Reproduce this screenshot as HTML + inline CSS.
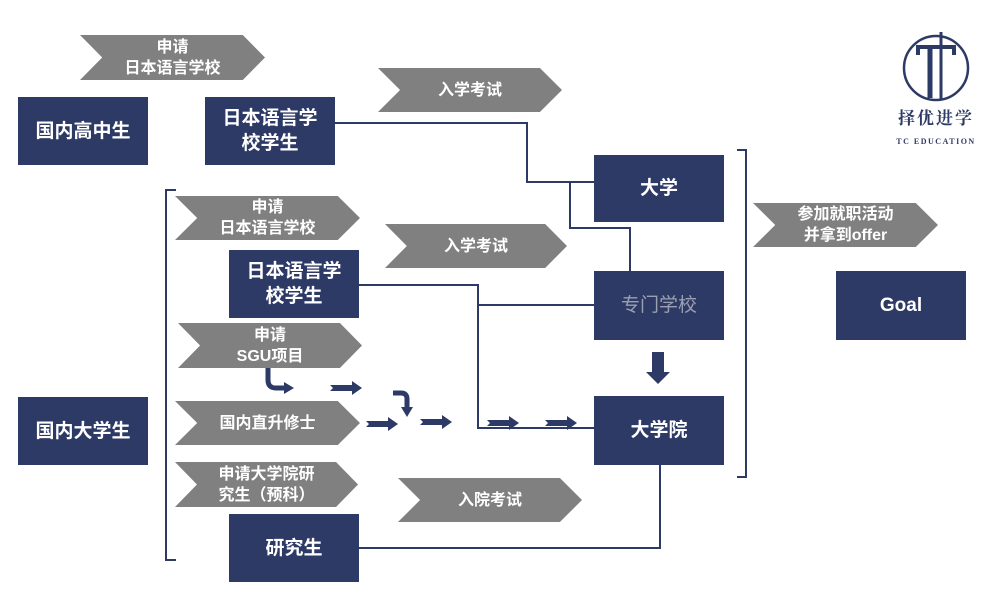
<!DOCTYPE html>
<html><head><meta charset="utf-8"><style>
body{margin:0;width:1000px;height:589px;background:#fff;overflow:hidden;position:relative;font-family:"Liberation Sans","Noto Sans CJK SC",sans-serif}
.b{position:absolute;background:#2e3a66;color:#fff;display:flex;align-items:center;justify-content:center;text-align:center;font-size:19px;line-height:25px;font-weight:bold}
.c{position:absolute;background:#808080;color:#fff;display:flex;align-items:center;justify-content:center;text-align:center;font-size:16px;line-height:21px;font-weight:bold;clip-path:polygon(0 0,88% 0,100% 50%,88% 100%,0 100%,12% 50%)}
svg{position:absolute;left:0;top:0}
</style></head><body>
<svg width="1000" height="589">
<defs><polygon id="a" points="0,-3 22,-3 22,-7 32,0 22,7 22,3 0,3 3,0" fill="#2e3a66"/></defs>
<g stroke="#2e3a66" stroke-width="2" fill="none">
<polyline points="335,123 527,123 527,182 594,182"/>
<polyline points="570,182 570,228 630,228 630,271"/>
<polyline points="359,285 478,285 478,428 594,428"/>
<line x1="478" y1="305" x2="594" y2="305"/>
<polyline points="359,548 660,548 660,465"/>
<polyline points="176,190 166,190 166,560 176,560"/>
<polyline points="737,150 746,150 746,477 737,477"/>
<path d="M268,368 v12 q0,8 8,8 h8" stroke-width="5"/>
<path d="M393,393 h8 q6,0 6,6 v8" stroke-width="5"/>
</g>
<g fill="#2e3a66">
<polygon points="284,382 294,388 284,394"/>
<polygon points="401,407 407,417 413,407"/>
<polygon points="652,352 664,352 664,372 670,372 658,384 646,372 652,372"/>
<use href="#a" x="330" y="388"/>
<use href="#a" x="366" y="424"/>
<use href="#a" x="420" y="422"/>
<use href="#a" x="487" y="423"/>
<use href="#a" x="545" y="423"/>
</g>
</svg>
<div class="c" style="left:80px;top:35px;width:185px;height:45px">申请<br>日本语言学校</div>
<div class="c" style="left:378px;top:68px;width:184px;height:44px">入学考试</div>
<div class="c" style="left:175px;top:196px;width:185px;height:44px">申请<br>日本语言学校</div>
<div class="c" style="left:385px;top:224px;width:182px;height:44px">入学考试</div>
<div class="c" style="left:178px;top:323px;width:184px;height:45px">申请<br>SGU项目</div>
<div class="c" style="left:175px;top:401px;width:185px;height:44px">国内直升修士</div>
<div class="c" style="left:175px;top:462px;width:183px;height:45px">申请大学院研<br>究生（预科）</div>
<div class="c" style="left:398px;top:478px;width:184px;height:44px">入院考试</div>
<div class="c" style="left:753px;top:203px;width:185px;height:44px">参加就职活动<br>并拿到offer</div>
<div class="b" style="left:18px;top:97px;width:130px;height:68px">国内高中生</div>
<div class="b" style="left:205px;top:97px;width:130px;height:68px">日本语言学<br>校学生</div>
<div class="b" style="left:594px;top:155px;width:130px;height:67px">大学</div>
<div class="b" style="left:594px;top:271px;width:130px;height:69px;color:#9aa0b0;font-weight:normal">专门学校</div>
<div class="b" style="left:594px;top:396px;width:130px;height:69px">大学院</div>
<div class="b" style="left:836px;top:271px;width:130px;height:69px">Goal</div>
<div class="b" style="left:18px;top:397px;width:130px;height:68px">国内大学生</div>
<div class="b" style="left:229px;top:250px;width:130px;height:68px">日本语言学<br>校学生</div>
<div class="b" style="left:229px;top:514px;width:130px;height:68px">研究生</div>
<svg width="1000" height="589" style="pointer-events:none">
<g stroke="#2e3a66" fill="none">
<circle cx="936" cy="68" r="32" stroke-width="2.5"/>
<path d="M918,55 v-8 h36 v8" stroke-width="4"/>
<line x1="930" y1="47" x2="930" y2="98" stroke-width="5"/>
<line x1="941" y1="32" x2="941" y2="100" stroke-width="3"/>
</g>
<text x="936" y="124" font-size="17" font-weight="bold" fill="#2e3a66" text-anchor="middle" font-family="Noto Serif CJK SC,serif" letter-spacing="2">择优进学</text>
<text x="936" y="144" font-size="8" font-weight="bold" fill="#2e3a66" text-anchor="middle" font-family="Liberation Serif,serif" letter-spacing="1.5">TC EDUCATION</text>
</svg>
</body></html>
